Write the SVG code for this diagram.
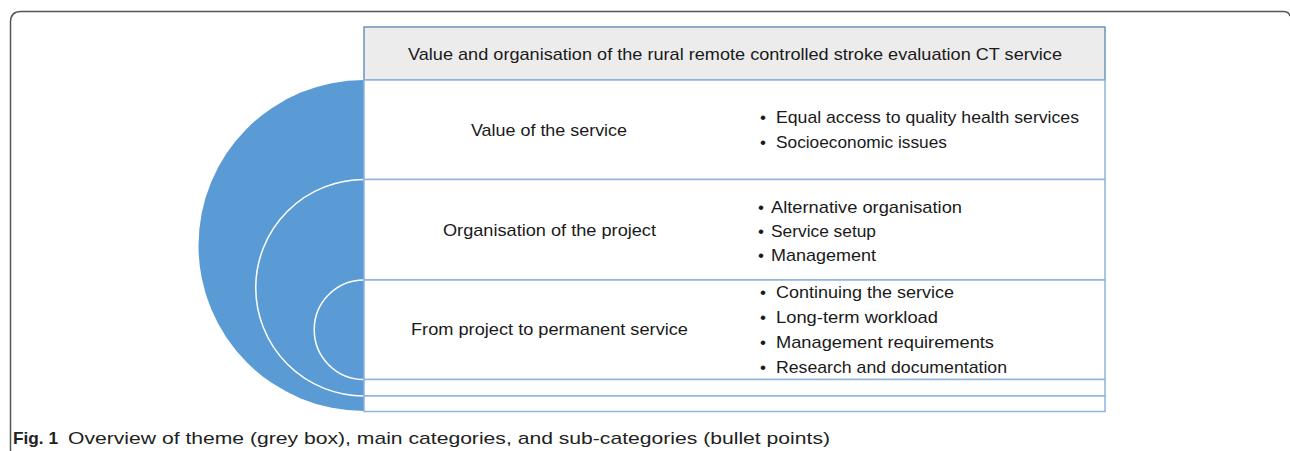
<svg xmlns="http://www.w3.org/2000/svg" width="1290" height="451" viewBox="0 0 1290 451">
<style>
.t{font-family:"Liberation Sans",Arial,sans-serif;font-size:17px;fill:#1a1a1a}
.c{text-anchor:middle}
.row{fill:#ffffff;stroke:#8fb4e0;stroke-width:1.5}
.arc{fill:none;stroke:#ffffff;stroke-width:1.5}
.cap{font-family:"Liberation Sans",Arial,sans-serif;font-size:17px;fill:#222}
</style>
<rect width="1290" height="451" fill="#ffffff"/>
<path d="M10.5,451 V22 Q10.5,11.5 21,11.5 H1283 Q1289,11.5 1290,16" fill="none" stroke="#555" stroke-width="1.5"/>
<g id="circle">
<path d="M364,80 A165.5,165.5 0 0 0 364,411 Z" fill="#5b9bd5"/>
<path class="arc" d="M364,179.5 A108.25,108.25 0 0 0 364,396"/>
<path class="arc" d="M364,280 A49.75,49.75 0 0 0 364,379.5"/>
</g>
<g id="header">
<rect x="364" y="27" width="741" height="53" fill="#ececec" stroke="#6e93bf" stroke-width="1.5"/>
<text class="t c" x="735" y="60" textLength="654" lengthAdjust="spacingAndGlyphs">Value and organisation of the rural remote controlled stroke evaluation CT service</text>
</g>
<g id="row1">
<rect class="row" x="364" y="80" width="741" height="99.5"/>
<text class="t c" x="549" y="136" textLength="156" lengthAdjust="spacingAndGlyphs">Value of the service</text>
<text class="t" x="760" y="123">•</text>
<text class="t" x="776" y="123" textLength="303" lengthAdjust="spacingAndGlyphs">Equal access to quality health services</text>
<text class="t" x="760" y="148">•</text>
<text class="t" x="776" y="148" textLength="171" lengthAdjust="spacingAndGlyphs">Socioeconomic issues</text>
</g>
<g id="row2">
<rect class="row" x="364" y="179.5" width="741" height="100.5"/>
<text class="t c" x="549.5" y="236" textLength="213" lengthAdjust="spacingAndGlyphs">Organisation of the project</text>
<text class="t" x="758" y="213">•</text>
<text class="t" x="771" y="213" textLength="191" lengthAdjust="spacingAndGlyphs">Alternative organisation</text>
<text class="t" x="758" y="237">•</text>
<text class="t" x="771" y="237" textLength="105" lengthAdjust="spacingAndGlyphs">Service setup</text>
<text class="t" x="758" y="261">•</text>
<text class="t" x="771" y="261" textLength="105" lengthAdjust="spacingAndGlyphs">Management</text>
</g>
<g id="row3">
<rect class="row" x="364" y="280" width="741" height="99.5"/>
<text class="t c" x="549.5" y="335" textLength="277" lengthAdjust="spacingAndGlyphs">From project to permanent service</text>
<text class="t" x="760" y="298">•</text>
<text class="t" x="776" y="298" textLength="178" lengthAdjust="spacingAndGlyphs">Continuing the service</text>
<text class="t" x="760" y="323">•</text>
<text class="t" x="776" y="323" textLength="162" lengthAdjust="spacingAndGlyphs">Long-term workload</text>
<text class="t" x="760" y="348">•</text>
<text class="t" x="776" y="348" textLength="218" lengthAdjust="spacingAndGlyphs">Management requirements</text>
<text class="t" x="760" y="373">•</text>
<text class="t" x="776" y="373" textLength="231" lengthAdjust="spacingAndGlyphs">Research and documentation</text>
</g>
<g id="row4"><rect class="row" x="364" y="379.5" width="741" height="16.5"/></g>
<g id="row5"><rect class="row" x="364" y="396" width="741" height="15.5"/></g>
<g id="connectors"></g>
<g id="caption">
<text class="cap" x="13" y="444" font-weight="bold" font-size="18" textLength="45" lengthAdjust="spacingAndGlyphs">Fig. 1</text>
<text class="cap" x="68" y="444" textLength="762" lengthAdjust="spacingAndGlyphs">Overview of theme (grey box), main categories, and sub-categories (bullet points)</text>
</g>
</svg>
